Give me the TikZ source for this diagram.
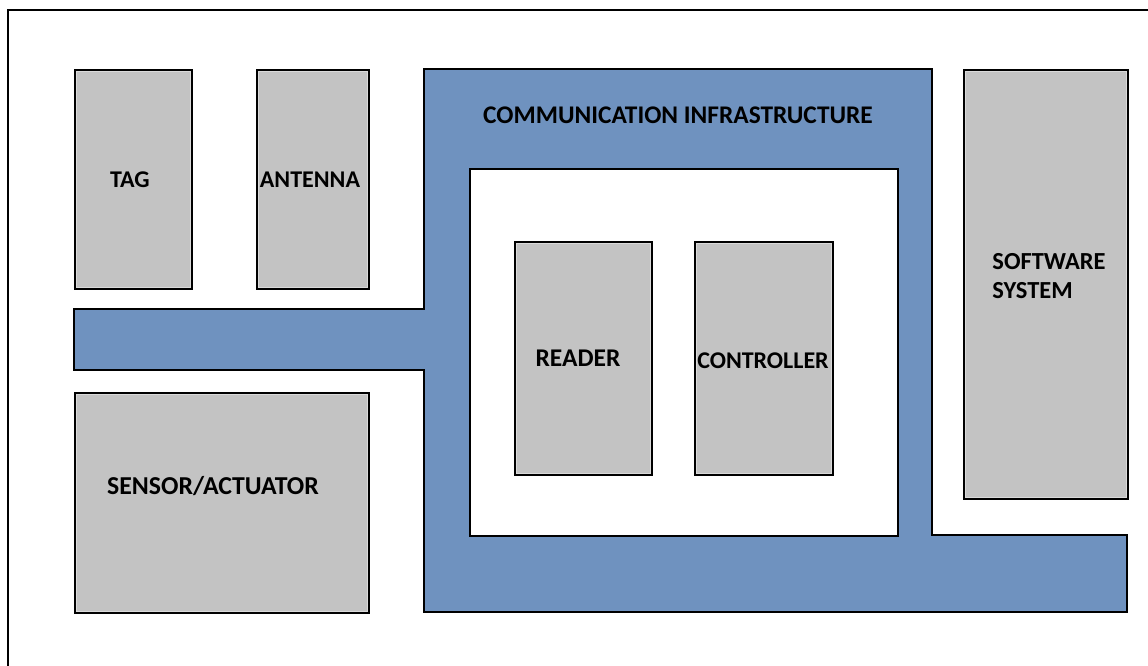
\documentclass[tikz,border=0pt]{standalone}
\usepackage{fontspec}
\setmainfont{Carlito}
\definecolor{boxgray}{RGB}{195,195,195}
\definecolor{boxedge}{RGB}{218,218,218}
\definecolor{infrablue}{RGB}{111,146,191}
\tikzset{
  unit/.style={draw=black, line width=1.6pt, fill=boxgray, rectangle, inner sep=0pt,
    anchor=north west,
    path picture={\draw[boxedge, line width=4pt]
      (path picture bounding box.south west) rectangle (path picture bounding box.north east);}},
  lbl/.style={text=black, align=center, inner sep=0pt},
  fs/.style={font=\fontsize{#1}{#1}\selectfont\bfseries},
}
\begin{document}
\begin{tikzpicture}[x=1pt, y=-1pt]
  \fill[white] (0,0) rectangle (1148,666);
  \useasboundingbox (0,0) rectangle (1148,666);
  % outer frame: top and left edges
  \coordinate (frametop) at (1148,10);
  \coordinate (framecorner) at (8,10);
  \coordinate (framebottom) at (8,666);
  \draw[line width=2pt] (frametop) -- (framecorner) -- (framebottom);

  % communication infrastructure band
  \draw[fill=infrablue, draw=black, line width=1.6pt]
    (424,69) -- (932,69) -- (932,535) -- (1127,535) -- (1127,612) -- (424,612)
    -- (424,370) -- (74,370) -- (74,309) -- (424,309) -- cycle;
  \node[lbl, fs=25.4] (infra) at (678,115) {COMMUNICATION INFRASTRUCTURE};

  % inner white area
  \node[draw=black, line width=1.6pt, fill=white, rectangle, inner sep=0pt, anchor=north west,
        minimum width=428pt, minimum height=367pt] (core) at (469,168) {};

  % units
  \node[unit, minimum width=117pt, minimum height=219pt] (tag) at (74,69) {};
  \node[unit, minimum width=112pt, minimum height=219pt] (antenna) at (256,69) {};
  \node[unit, minimum width=294pt, minimum height=220pt] (sensor) at (74,392) {};
  \node[unit, minimum width=137pt, minimum height=233pt] (reader) at (514,241) {};
  \node[unit, minimum width=138pt, minimum height=233pt] (controller) at (694,241) {};
  \node[unit, minimum width=164pt, minimum height=429pt] (software) at (963,69) {};

  % labels
  \node[lbl, fs=24] (tagtxt) at (130,180) {TAG};
  \node[lbl, fs=24] (antennatxt) at (310,180) {ANTENNA};
  \node[lbl, fs=25.8] (sensortxt) at (213,486) {SENSOR/ACTUATOR};
  \node[lbl, fs=25.5] (readertxt) at (578,358) {READER};
  \node[lbl, fs=24] (controllertxt) at (763,361) {CONTROLLER};
  \node[lbl, fs=24.5, align=left] (softwaretxt) at (1049,276) {SOFTWARE\\[4pt]SYSTEM};
\end{tikzpicture}
\end{document}
